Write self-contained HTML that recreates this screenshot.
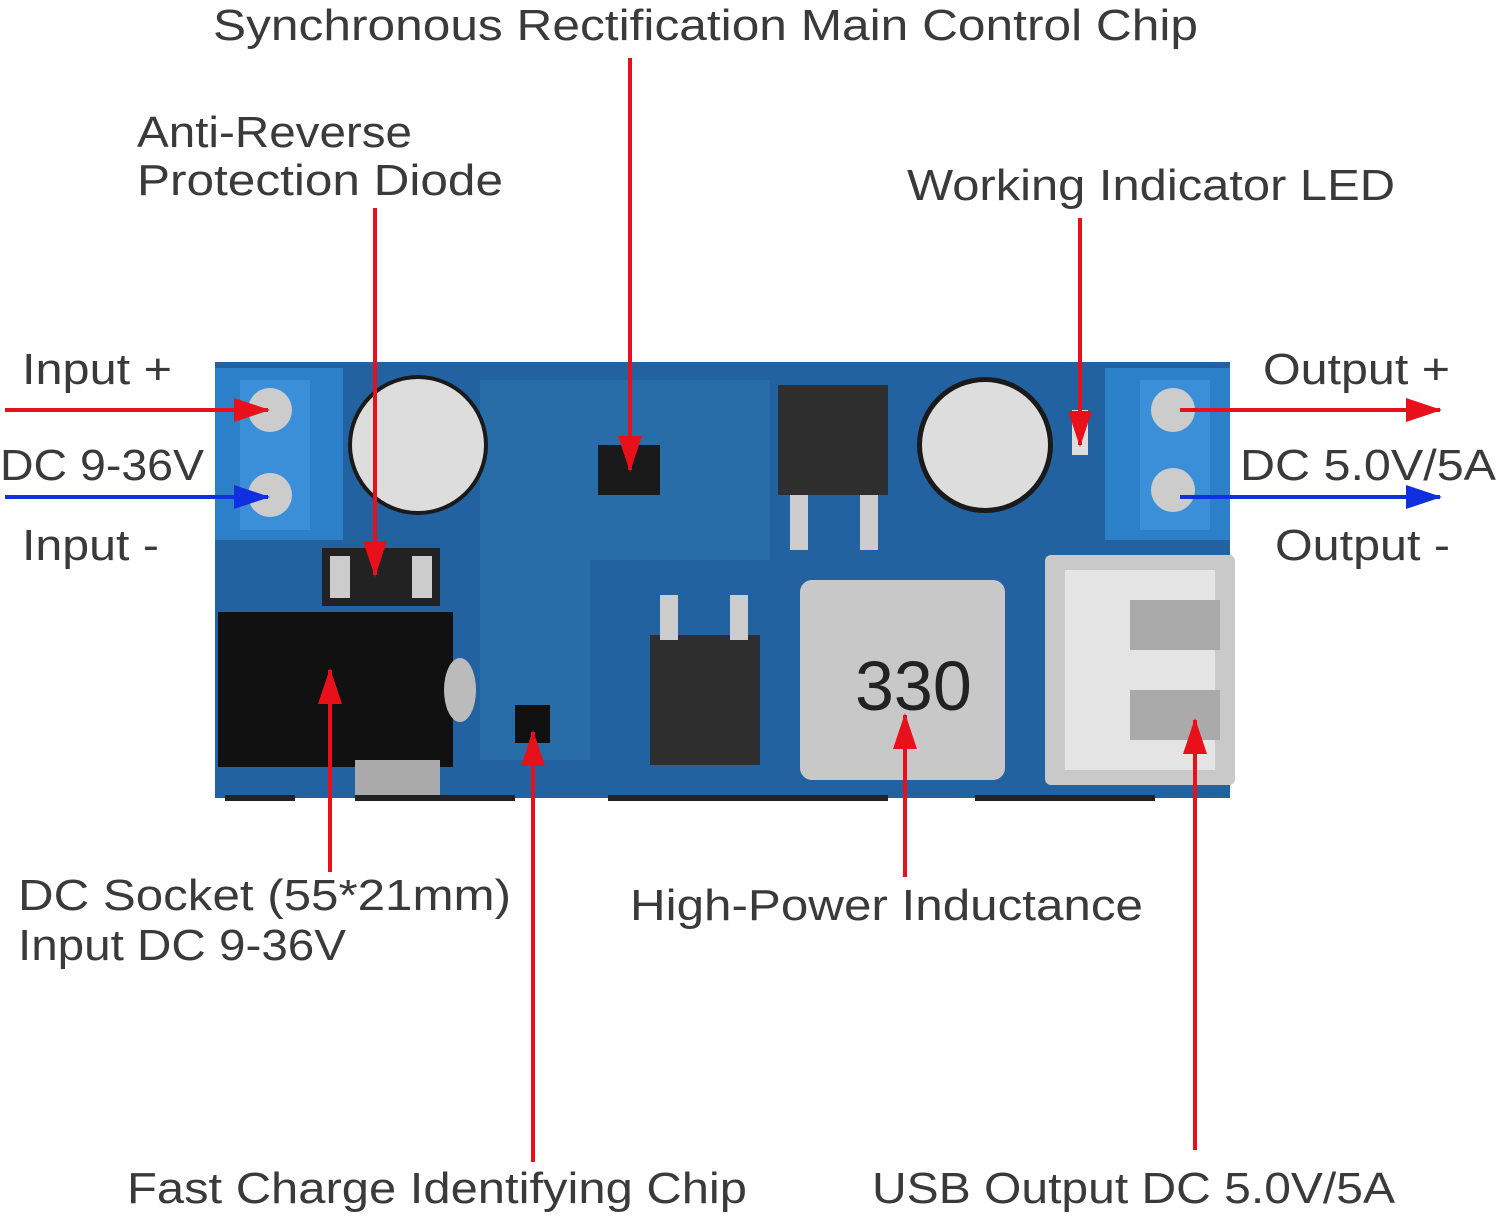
<!DOCTYPE html>
<html><head><meta charset="utf-8"><style>
html,body{margin:0;padding:0;background:#fff;}
svg{display:block;}
text{font-family:"Liberation Sans",sans-serif;fill:#3a3a3a;font-size:44px;}
</style></head><body>
<svg width="1500" height="1217" viewBox="0 0 1500 1217" xmlns="http://www.w3.org/2000/svg">
<defs>
<marker id="ar" markerWidth="36" markerHeight="24" refX="34" refY="12" orient="auto" markerUnits="userSpaceOnUse" viewBox="0 0 36 24"><path d="M0,0 L36,12 L0,24 z" fill="#e8101a"/></marker>
<marker id="ab" markerWidth="36" markerHeight="24" refX="34" refY="12" orient="auto" markerUnits="userSpaceOnUse" viewBox="0 0 36 24"><path d="M0,0 L36,12 L0,24 z" fill="#1030e0"/></marker>
</defs>
<!-- PCB -->
<rect x="215" y="362" width="1015" height="436" fill="#2262a0"/>
<rect x="225" y="795" width="70" height="6" fill="#222"/><rect x="355" y="795" width="160" height="6" fill="#222"/><rect x="608" y="795" width="280" height="6" fill="#222"/><rect x="975" y="795" width="180" height="6" fill="#222"/>
<path d="M480 380 L770 380 L770 560 L590 560 L590 760 L480 760 Z" fill="#296da8"/>
<!-- input terminal -->
<rect x="215" y="368" width="128" height="172" fill="#2c7fc9"/>
<rect x="240" y="380" width="70" height="150" fill="#3a8fd8"/>
<circle cx="270" cy="410" r="22" fill="#ccc"/><circle cx="270" cy="495" r="22" fill="#ccc"/>
<!-- output terminal -->
<rect x="1105" y="368" width="125" height="172" fill="#2c7fc9"/>
<rect x="1140" y="380" width="70" height="150" fill="#3a8fd8"/>
<circle cx="1173" cy="410" r="22" fill="#ccc"/><circle cx="1173" cy="490" r="22" fill="#ccc"/>
<!-- caps -->
<circle cx="418" cy="445" r="70" fill="#1a1a1a"/><circle cx="418" cy="445" r="66" fill="#ddd"/>
<circle cx="985" cy="445" r="68" fill="#1a1a1a"/><circle cx="985" cy="445" r="63" fill="#ddd"/>
<!-- diode -->
<rect x="322" y="548" width="118" height="58" fill="#222"/><rect x="330" y="556" width="20" height="42" fill="#ccc"/><rect x="412" y="556" width="20" height="42" fill="#ccc"/>
<!-- DC jack -->
<rect x="218" y="612" width="235" height="155" fill="#111"/>
<ellipse cx="460" cy="690" rx="16" ry="32" fill="#bbb"/>
<rect x="355" y="760" width="85" height="35" fill="#aaa"/>
<!-- chip -->
<rect x="598" y="445" width="62" height="50" fill="#1a1a1a"/>
<!-- mosfet top -->
<rect x="778" y="385" width="110" height="110" fill="#2e2e2e"/>
<rect x="790" y="495" width="18" height="55" fill="#ccc"/><rect x="860" y="495" width="18" height="55" fill="#ccc"/>
<!-- mosfet bottom -->
<rect x="650" y="635" width="110" height="130" fill="#2e2e2e"/>
<rect x="660" y="595" width="18" height="45" fill="#ccc"/><rect x="730" y="595" width="18" height="45" fill="#ccc"/>
<!-- inductor -->
<rect x="800" y="580" width="205" height="200" rx="12" fill="#c8c8c8"/>
<text x="855" y="710" style="font-size:70px;fill:#222">330</text>
<!-- USB -->
<rect x="1045" y="555" width="190" height="230" rx="6" fill="#c9c9c9"/>
<rect x="1065" y="570" width="150" height="200" fill="#e4e4e4"/>
<rect x="1130" y="600" width="90" height="50" fill="#aaa"/><rect x="1130" y="690" width="90" height="50" fill="#aaa"/>
<!-- LED -->
<rect x="1072" y="410" width="16" height="45" fill="#ddd"/>
<!-- U5 -->
<rect x="515" y="705" width="35" height="38" fill="#111"/>

<!-- labels -->
<text x="213" y="40" textLength="985" lengthAdjust="spacingAndGlyphs">Synchronous Rectification Main Control Chip</text>
<text x="137" y="147" textLength="275" lengthAdjust="spacingAndGlyphs">Anti-Reverse</text>
<text x="137" y="195" textLength="366" lengthAdjust="spacingAndGlyphs">Protection Diode</text>
<text x="907" y="200" textLength="488" lengthAdjust="spacingAndGlyphs">Working Indicator LED</text>
<text x="22" y="384" textLength="150" lengthAdjust="spacingAndGlyphs">Input +</text>
<text x="0" y="480" textLength="204" lengthAdjust="spacingAndGlyphs">DC 9-36V</text>
<text x="22" y="560" textLength="137" lengthAdjust="spacingAndGlyphs">Input -</text>
<text x="1263" y="384" textLength="187" lengthAdjust="spacingAndGlyphs">Output +</text>
<text x="1240" y="480" textLength="256" lengthAdjust="spacingAndGlyphs">DC 5.0V/5A</text>
<text x="1275" y="560" textLength="175" lengthAdjust="spacingAndGlyphs">Output -</text>
<text x="18" y="910" textLength="493" lengthAdjust="spacingAndGlyphs">DC Socket (55*21mm)</text>
<text x="18" y="960" textLength="328" lengthAdjust="spacingAndGlyphs">Input DC 9-36V</text>
<text x="630" y="920" textLength="513" lengthAdjust="spacingAndGlyphs">High-Power Inductance</text>
<text x="127" y="1203" textLength="620" lengthAdjust="spacingAndGlyphs">Fast Charge Identifying Chip</text>
<text x="872" y="1203" textLength="523" lengthAdjust="spacingAndGlyphs">USB Output DC 5.0V/5A</text>

<!-- arrows -->
<g stroke="#e8101a" stroke-width="4" fill="none">
<line x1="630" y1="58" x2="630" y2="470" marker-end="url(#ar)"/>
<line x1="375" y1="208" x2="375" y2="575" marker-end="url(#ar)"/>
<line x1="1080" y1="218" x2="1080" y2="445" marker-end="url(#ar)"/>
<line x1="5" y1="410" x2="268" y2="410" marker-end="url(#ar)"/>
<line x1="1180" y1="410" x2="1440" y2="410" marker-end="url(#ar)"/>
<line x1="330" y1="872" x2="330" y2="670" marker-end="url(#ar)"/>
<line x1="533" y1="1162" x2="533" y2="732" marker-end="url(#ar)"/>
<line x1="905" y1="877" x2="905" y2="715" marker-end="url(#ar)"/>
<line x1="1195" y1="1150" x2="1195" y2="720" marker-end="url(#ar)"/>
</g>
<g stroke="#1030e0" stroke-width="4" fill="none">
<line x1="5" y1="497" x2="268" y2="497" marker-end="url(#ab)"/>
<line x1="1180" y1="497" x2="1440" y2="497" marker-end="url(#ab)"/>
</g>
</svg>
</body></html>
